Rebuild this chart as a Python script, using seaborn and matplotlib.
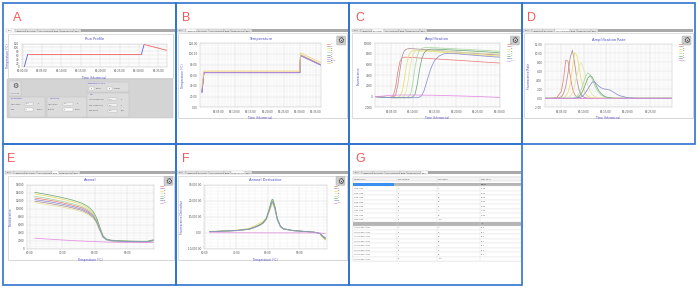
import matplotlib
matplotlib.use("Agg")
import matplotlib.pyplot as plt
import pandas as pd
import seaborn as sns
from matplotlib.patches import Rectangle, FancyBboxPatch
from matplotlib.ticker import FuncFormatter, AutoMinorLocator

# ---------------- data ----------------
panel_letters = ["A", "B", "C", "D", "E", "F", "G"]
tab_names = ["Profile", "Temperature", "Amplification", "Amplification Rate",
             "Anneal", "Anneal Derivative", "Result"]
wells = ["C1", "C2", "C3", "C4", "C5", "C6", "C7", "NTC"]

# A: run profile
profile_time = [0.4, 1.3, 1.3, 30.6, 30.6, 31.3, 31.3, 37.2]
profile_temp = [0, 65, 65, 65, 65, 115, 115, 85]
profile_step = ["r1", "r1", "h1", "h1", "r2", "r2", "h2", "h2"]
profile_kind = ["Ramp", "Ramp", "Hold", "Hold", "Ramp", "Ramp", "Hold", "Hold"]
profile_yticks = [0, 20, 40, 60, 80, 100, 120]

# B: temperature
temp_names = wells + ["Block", "Lid"]
temp_time = [0, 0.6, 30.0, 30.2, 36.4]
temp_values = [
    [30, 65.4, 65.4, 98.0, 80.0],
    [29, 65.2, 65.2, 97.6, 79.6],
    [33, 66.0, 66.0, 99.0, 81.0],
    [32, 65.6, 65.6, 98.4, 80.4],
    [30, 65.3, 65.3, 97.8, 79.8],
    [29, 65.1, 65.1, 97.4, 79.4],
    [28, 64.9, 64.9, 97.2, 79.2],
    [30, 65.2, 65.2, 97.6, 79.6],
    [27, 64.8, 64.8, 97.0, 79.0],
    [40, 68.0, 68.0, 102.0, 84.0],
]

# C: amplification (time in minutes)
amp_time = [1.2, 3, 4, 5, 5.5, 6, 6.5, 7, 7.5, 8, 8.5, 9, 9.5, 10, 10.5, 11, 11.5,
            12, 12.5, 13, 13.5, 14, 14.5, 15, 16, 17, 18, 20, 22, 25, 28, 30]
amp_values = [
    [0, -100, -150, -100, 300, 1800, 4600, 6600, 7300, 7400, 7400, 7380, 7350, 7330,
     7300, 7280, 7250, 7230, 7200, 7180, 7150, 7130, 7100, 7080,
     7030, 6980, 6930, 6830, 6730, 6560, 6400, 6300],
    [0, -100, -150, -150, -50, 300, 2200, 5000, 7600, 8600, 8900, 9000, 9000, 8980,
     8950, 8920, 8890, 8860, 8830, 8800, 8770, 8740, 8710, 8680,
     8620, 8560, 8500, 8380, 8260, 8080, 7900, 7800],
    [0, -100, -150, -200, -200, -200, -150, 100, 900, 3200, 5900, 7700, 8400, 8600,
     8620, 8600, 8580, 8560, 8540, 8520, 8500, 8470, 8450, 8420,
     8360, 8300, 8250, 8140, 8030, 7860, 7700, 7600],
    [0, -100, -150, -200, -200, -200, -200, -200, -150, 100, 1200, 3500, 6200, 7900,
     8500, 8700, 8720, 8700, 8680, 8660, 8640, 8620, 8600, 8580,
     8540, 8500, 8460, 8380, 8300, 8180, 8060, 8000],
    [0, -100, -150, -200, -200, -200, -200, -200, -200, -200, -200, 0, 600, 2800,
     5600, 7700, 8700, 9050, 9150, 9200, 9200, 9190, 9180, 9160,
     9120, 9080, 9040, 8950, 8870, 8740, 8600, 8500],
    [0, -100, -150, -200, -200, -200, -200, -200, -200, -200, -200, -200, -200, 0,
     500, 2400, 5000, 7000, 8100, 8600, 8800, 8880, 8900, 8900,
     8870, 8830, 8790, 8700, 8620, 8480, 8330, 8200],
    [0, -100, -150, -200, -200, -200, -200, -200, -200, -200, -200, -200, -200, -200,
     -200, -200, -100, 200, 1000, 2300, 3700, 5000, 6000, 6800,
     7600, 8000, 8100, 8050, 7900, 7700, 7500, 7400],
    [0, 100, 200, 250, 270, 280, 290, 300, 300, 300, 300, 300, 300, 300,
     300, 300, 290, 290, 280, 280, 270, 270, 260, 250,
     230, 210, 190, 150, 100, 20, -80, -150],
]

# D: amplification rate (same time grid)
rate_values = [
    [0, 0, 0.2, 1.5, 4.2, 8.4, 8.2, 5.0, 2.2, 0.8, 0.3, 0.1, 0, 0,
     0, 0, 0, 0, 0, 0, 0, 0, 0, 0, 0, 0, 0, 0, 0, 0, 0, 0],
    [0, 0, 0, 0.3, 1.0, 2.6, 5.5, 9.0, 10.6, 7.8, 4.2, 1.8, 0.7, 0.3,
     0.1, 0, 0, 0, 0, 0, 0, 0, 0, 0, 0, 0, 0, 0, 0, 0, 0, 0],
    [0, 0, 0, 0, 0.1, 0.4, 1.3, 3.2, 6.5, 10.1, 9.5, 7.0, 4.0, 2.0,
     0.9, 0.4, 0.2, 0.1, 0, 0, 0, 0, 0, 0, 0, 0, 0, 0, 0, 0, 0, 0],
    [0, 0, 0, 0, 0, 0, 0.1, 0.4, 1.2, 2.8, 5.0, 7.2, 7.8, 6.6,
     4.6, 2.8, 1.5, 0.8, 0.4, 0.2, 0.1, 0, 0, 0, 0, 0, 0, 0, 0, 0, 0, 0],
    [0, 0, 0, 0, 0, 0, 0, 0, 0, 0.1, 0.4, 1.0, 2.0, 3.4,
     4.9, 5.6, 5.2, 4.1, 2.9, 1.9, 1.2, 0.7, 0.4, 0.2, 0.1, 0, 0, 0, 0, 0, 0, 0],
    [0, 0, 0, 0, 0, 0, 0, 0, 0, 0, 0.1, 0.4, 1.0, 2.0,
     3.3, 4.5, 5.0, 4.6, 3.6, 2.5, 1.6, 1.0, 0.6, 0.3, 0.1, 0, 0, 0, 0, 0, 0, 0],
    [0, 0, 0, 0, 0, 0, 0, 0, 0, 0, 0, 0.1, 0.3, 0.7,
     1.3, 2.1, 2.9, 3.6, 3.6, 3.1, 2.6, 2.3, 2.1, 2.0, 1.8, 1.2, 0.6, 0.1, 0, 0, 0, 0],
    [0, 0, 0, 0, 0, 0, 0, 0, 0, 0, 0, 0, 0, 0,
     0, 0, 0, 0, 0, 0, 0, 0, 0, 0, 0, 0, 0, 0, 0, 0, 0, 0],
]

# E: anneal (temperature in degC)
anneal_temp = [61.5, 64, 67, 70, 73, 76, 78, 79.5, 80.5, 81.5, 82.5, 83.5, 85, 88, 92, 96, 98]
anneal_values = [
    [12700, 12400, 12000, 11500, 10950, 10250, 9400, 8350, 7000, 4950, 3050, 2380, 2080, 1920, 1830, 1780, 2150],
    [11900, 11600, 11200, 10750, 10250, 9600, 8800, 7800, 6600, 4700, 2950, 2300, 2000, 1850, 1780, 1730, 2050],
    [13700, 13350, 12900, 12400, 11800, 11000, 10100, 8900, 7500, 5300, 3200, 2450, 2150, 2000, 1900, 1850, 2250],
    [11500, 11200, 10800, 10400, 9900, 9250, 8500, 7550, 6400, 4550, 2900, 2250, 1950, 1820, 1750, 1700, 2000],
    [13100, 12800, 12350, 11850, 11300, 10550, 9700, 8600, 7200, 5100, 3100, 2400, 2100, 1950, 1850, 1800, 2200],
    [14100, 13750, 13300, 12800, 12200, 11400, 10500, 9300, 7800, 5500, 3300, 2500, 2200, 2050, 1950, 1900, 2300],
    [12300, 12000, 11600, 11150, 10600, 9900, 9100, 8100, 6800, 4800, 3000, 2350, 2050, 1900, 1800, 1750, 2100],
    [2700, 2550, 2400, 2250, 2100, 1980, 1900, 1850, 1820, 1790, 1760, 1730, 1700, 1660, 1620, 1600, 1600],
]

# F: anneal derivative
deriv_temp = [61.5, 65, 70, 74, 76, 77.5, 78.5, 79.5, 80.5, 81.2, 81.6, 82.2, 83, 84, 85,
              88, 92, 95, 96.5, 97.5, 98.3]
deriv_values = [
    [800, 1100, 1500, 2400, 3700, 5000, 6300, 8800, 14600, 19200, 19700, 16000, 8600, 4000, 2500, 1450, 870, 380, -300, -2300, -3500],
    [750, 1000, 1400, 2250, 3500, 4800, 6000, 8400, 13900, 18200, 18700, 15300, 8200, 3850, 2400, 1400, 840, 360, -350, -2600, -4000],
    [900, 1200, 1700, 2800, 4600, 6300, 7200, 9300, 13500, 17000, 17600, 15000, 8300, 4000, 2500, 1450, 850, 350, -400, -3000, -4500],
    [700, 1000, 1400, 2200, 3400, 4700, 5900, 8200, 13500, 17800, 18300, 15000, 8100, 3800, 2400, 1380, 830, 350, -400, -2800, -4300],
    [800, 1100, 1500, 2400, 3800, 5200, 6500, 9000, 15000, 19800, 20300, 16500, 8800, 4100, 2600, 1500, 900, 400, -300, -2200, -3300],
    [800, 1100, 1500, 2400, 3800, 5200, 6500, 9200, 15500, 20500, 21000, 17000, 9000, 4200, 2600, 1500, 900, 400, -300, -2500, -3800],
    [750, 1050, 1450, 2300, 3600, 4900, 6200, 8600, 14200, 18600, 19100, 15600, 8400, 3900, 2450, 1420, 850, 370, -300, -2000, -3000],
    [100, 100, 80, 60, 50, 50, 50, 40, 40, 40, 40, 30, 30, 30, 20, 20, 10, 0, -100, -300, -500],
]

# G: result table
table_cols = ["Target Name", "Well Number", "Well Name", "Peak Value"]
section_names = ["Amp Time", "Anneal Derivative"]
section_units = ["mm:ss", "\u00b0C"]
well_numbers = ["1", "2", "3", "4", "5", "6", "7", "8"]
amp_times = ["06:18", "07:02", "08:16", "09:20", "10:20", "11:25", "13:30", ""]
anneal_peaks = ["82.1", "82.1", "82.2", "82.1", "82.1", "82.2", "82.1", ""]

# ---------------- styles ----------------
well_colors = ["#e8807a", "#b58c96", "#eedc6a", "#dfe6a2", "#a9d6a0", "#6fa97c", "#8a8fd0", "#e48ee4"]
temp_colors = well_colors + ["#9b86d6", "#f2cf78"]
profile_colors = {"Ramp": "#5b5be0", "Hold": "#f06464"}
BLUE_TXT = "#4b4bc8"
BORDER = "#2f72cf"

sns.set_style("white")
plt.rcParams["font.family"] = ["DejaVu Sans"]

W, H = 700, 290
fig = plt.figure(figsize=(7, 2.9), dpi=100, facecolor="white")
bg = fig.add_axes([0, 0, 1, 1])
bg.set_xlim(0, W)
bg.set_ylim(H, 0)
bg.axis("off")


def ax_at(x0, y0, x1, y1):
    return fig.add_axes([x0 / W, 1 - y1 / H, (x1 - x0) / W, (y1 - y0) / H])


def rect(x0, y0, x1, y1, fc, ec="none", lw=0.3, z=1):
    bg.add_patch(Rectangle((x0, y0), x1 - x0, y1 - y0, facecolor=fc,
                           edgecolor=ec, linewidth=lw, zorder=z))


def txt(x, y, s, size=1.5, color="#555555", ha="left", va="center", z=5, **kw):
    bg.text(x, y, s, fontsize=size, color=color, ha=ha, va=va, zorder=z, **kw)


def tabs(x0, x1, y0, active):
    rect(x0, y0, x1, y0 + 3.4, "#a9a9a9", z=2)
    widths = [9, 11, 12, 15, 7, 14, 7]
    x = x0
    for i, (name, w) in enumerate(zip(tab_names, widths)):
        rect(x, y0 + 0.2, x + w, y0 + 3.4, "white" if i == active else "#e2e2e2",
             ec="#9a9a9a", lw=0.2, z=3)
        txt(x + w / 2, y0 + 1.9, name, size=1.05, color="#444444", ha="center")
        x += w


def gear(x0, y0):
    bg.add_patch(FancyBboxPatch((x0, y0), 9, 9, boxstyle="round,pad=0,rounding_size=1",
                                facecolor="#cdcdcd", edgecolor="#a8a8a8", linewidth=0.3, zorder=4))
    txt(x0 + 4.5, y0 + 4.7, "\u2699", size=5.5, color="#4a4a4a", ha="center")


def legend(x0, y0, names, colors, dy):
    for i, (n, c) in enumerate(zip(names, colors)):
        y = y0 + i * dy
        bg.plot([x0, x0 + 3], [y, y], color=c, lw=0.5, zorder=5)
        txt(x0 + 3.8, y, n, size=1.3, color="#666666")


def chart_box(x0, y0, x1, y1):
    rect(x0 + 0.6, y0 + 0.6, x1 + 0.6, y1 + 0.6, "#e4e4e4", z=1)
    rect(x0, y0, x1, y1, "white", ec="#c4c4c4", lw=0.4, z=1.5)


def style(ax, xlim, ylim, xticks, yticks, xfmt, yfmt, title, xlabel, ylabel, minor=5):
    ax.set_facecolor("white")
    ax.set_xlim(*xlim)
    ax.set_ylim(*ylim)
    ax.set_xticks(xticks)
    ax.set_yticks(yticks)
    ax.xaxis.set_major_formatter(FuncFormatter(xfmt))
    ax.yaxis.set_major_formatter(FuncFormatter(yfmt))
    ax.xaxis.set_minor_locator(AutoMinorLocator(minor))
    ax.yaxis.set_minor_locator(AutoMinorLocator(minor))
    ax.grid(which="major", color="#d6d6d6", lw=0.35)
    ax.grid(which="minor", color="#ececec", lw=0.25)
    ax.set_axisbelow(True)
    ax.tick_params(which="major", labelsize=2.0, length=0.8, width=0.3,
                   colors="#555555", pad=1)
    ax.tick_params(which="minor", length=0)
    for s in ax.spines.values():
        s.set_color("#bdbdbd")
        s.set_linewidth(0.3)
    ax.set_title(title, fontsize=2.6, color=BLUE_TXT, pad=2.5)
    ax.set_xlabel(xlabel, fontsize=2.1, color=BLUE_TXT, labelpad=1.5)
    ax.set_ylabel(ylabel, fontsize=2.1, color=BLUE_TXT, labelpad=2.5)


def plot_lines(ax, x, values, names, colors, lw=0.5):
    frames = [pd.DataFrame({"x": x, "y": v, "series": n}) for n, v in zip(names, values)]
    df = pd.concat(frames, ignore_index=True)
    sns.lineplot(data=df, x="x", y="y", hue="series", hue_order=names,
                 palette=dict(zip(names, colors)), estimator=None, sort=False,
                 legend=False, linewidth=lw, ax=ax)


tfmt = lambda v, p: f"00:{int(round(v)):02d}:00"
f2 = lambda v, p: f"{v:.2f}"
fi = lambda v, p: f"{int(round(v))}"
fc = lambda v, p: f"{v:,.2f}"

# ---------------- panel frames ----------------
panels = [(3, 3, 176, 144), (176, 3, 349, 144), (349, 3, 522, 144), (522, 3, 695, 144),
          (3, 144, 176, 285), (176, 144, 349, 285), (349, 144, 522, 285)]
letter_pos = [(12.7, 20.7), (182.3, 20.7), (355.3, 20.7), (527, 20.7),
              (7.3, 162.3), (182.3, 161.5), (355.3, 161.5)]
for (x0, y0, x1, y1), L, (lx, ly) in zip(panels, panel_letters, letter_pos):
    bg.add_patch(Rectangle((x0, y0), x1 - x0, y1 - y0, facecolor="none",
                           edgecolor=BORDER, linewidth=1.2, zorder=10))
    bg.text(lx, ly, L, fontsize=9, color="#f05a5a", ha="left", va="baseline",
            family=["Liberation Sans", "DejaVu Sans"], zorder=6)

# tab strips
tabs(6, 175, 29, 0)
tabs(177, 348.3, 29, 1)
tabs(352, 521, 29, 2)
tabs(523, 693, 29, 3)
tabs(5, 175, 171, 4)
tabs(177, 348, 171, 5)
tabs(353, 521, 171, 6)

# ---------------- A: run profile ----------------
chart_box(8, 34, 173, 78)
axA = ax_at(21.5, 43.5, 167, 67)
dfA = pd.DataFrame({"x": profile_time, "y": profile_temp,
                    "kind": profile_kind, "step": profile_step})
sns.lineplot(data=dfA, x="x", y="y", hue="kind", units="step", estimator=None,
             sort=False, palette=profile_colors, legend=False, linewidth=0.6, ax=axA)
style(axA, (-0.3, 37.2), (0, 120), [0, 5, 10, 15, 20, 25, 30, 35], profile_yticks,
      tfmt, fi, "Run Profile", "Time (hh:mm:ss)", "Temperature (\u00b0C)", minor=2)

# controls below
rect(7, 79, 173, 118.3, "#d4d4d4", ec="#c0c0c0", z=1)
rect(9, 81, 20.5, 96, "#dedede", ec="#bcbcbc", z=2)
txt(15, 85.6, "\u2699", size=5, color="#444444", ha="center")
txt(15, 93.5, "Advanced", size=1.3, ha="center")
# Denaturation
rect(9, 97, 45, 116.5, "#dcdcdc", ec="#bdbdbd", z=2)
txt(11, 98.6, "Denaturation", size=1.4, color=BLUE_TXT)
txt(10.5, 104, "Temperature", size=1.2)
rect(25, 102.8, 33.3, 105.2, "white", ec="#9a9a9a", lw=0.2, z=3)
txt(25.6, 104, "95.0", size=1.1)
txt(37, 104, "\u00b0C", size=1.2)
txt(10.5, 109.3, "Time", size=1.2)
rect(25, 108.1, 33.3, 110.5, "white", ec="#9a9a9a", lw=0.2, z=3)
txt(25.6, 109.3, "0", size=1.1)
txt(36.5, 109.3, "Minutes", size=1.2)
# Isothermal
rect(46.7, 97, 86.7, 116.5, "#dcdcdc", ec="#bdbdbd", z=2)
txt(50, 98.6, "Isothermal", size=1.4, color=BLUE_TXT)
txt(48.3, 104, "Temperature", size=1.2)
rect(63.3, 102.8, 72.7, 105.2, "white", ec="#9a9a9a", lw=0.2, z=3)
txt(64, 104, "65.0", size=1.1)
txt(76, 104, "\u00b0C", size=1.2)
txt(48.3, 109.3, "Duration", size=1.2)
rect(63.3, 108.1, 72.7, 110.5, "white", ec="#9a9a9a", lw=0.2, z=3)
txt(64, 109.3, "30", size=1.1)
txt(75, 109.3, "Minutes", size=1.2)
# Estimated run time
rect(87.3, 81.7, 129.3, 91.7, "#dcdcdc", ec="#bdbdbd", z=2)
txt(88.3, 83.1, "Estimated run time", size=1.3, color=BLUE_TXT)
rect(89.3, 87.1, 94.3, 89.5, "white", ec="#9a9a9a", lw=0.2, z=3)
txt(91.8, 88.3, "37", size=1.1, ha="center")
txt(96, 88.3, "Minutes", size=1.2)
rect(107.3, 87.1, 112.3, 89.5, "white", ec="#9a9a9a", lw=0.2, z=3)
txt(109.8, 88.3, "12", size=1.1, ha="center")
txt(114, 88.3, "Seconds", size=1.2)
# Melt
rect(87.3, 92.7, 129.3, 117.3, "#dcdcdc", ec="#bdbdbd", z=2)
txt(89.3, 94.2, "Melt", size=1.4, color=BLUE_TXT)
for yy, lab, val, unit in [(99, "Start Temperature", "95.0", "\u00b0C"),
                           (105, "End Temperature", "80.0", "\u00b0C"),
                           (110.7, "Ramp Rate", "0.10", "\u00b0C/sec")]:
    txt(89.3, yy, lab, size=1.2)
    rect(108.3, yy - 1.2, 116.7, yy + 1.2, "white", ec="#9a9a9a", lw=0.2, z=3)
    txt(109, yy, val, size=1.1)
    txt(120, yy, unit, size=1.2)

# ---------------- B: temperature ----------------
chart_box(178, 33, 347, 118)
axB = ax_at(200, 43.3, 320.7, 107.3)
plot_lines(axB, temp_time, temp_values, temp_names, temp_colors, lw=0.55)
style(axB, (-0.6, 36.4), (0, 120), [5, 10, 15, 20, 25, 30, 35],
      [0, 20, 40, 60, 80, 100, 120], tfmt, f2, "Temperature",
      "Time (hh:mm:ss)", "Temperature (\u00b0C)")
gear(336.7, 36)
legend(326.7, 44, temp_names, temp_colors, 2.1)

# ---------------- C: amplification ----------------
chart_box(352, 33, 521, 118)
axC = ax_at(374.7, 43.3, 499.7, 107.3)
plot_lines(axC, amp_time, amp_values, wells, well_colors, lw=0.55)
style(axC, (1.17, 30), (-2000, 10000), [5, 10, 15, 20, 25, 30],
      [-2000, 0, 2000, 4000, 6000, 8000, 10000], tfmt, fi, "Amplification",
      "Time (hh:mm:ss)", "Fluorescence")
gear(510.3, 36)
legend(507, 44, wells, well_colors, 2.4)

# ---------------- D: amplification rate ----------------
chart_box(524, 33, 693, 118)
axD = ax_at(544.7, 44, 672, 107.3)
plot_lines(axD, amp_time, rate_values, wells, well_colors, lw=0.55)
style(axD, (1.27, 29.9), (-2, 12), [5, 10, 15, 20, 25],
      [-2, 0, 2, 4, 6, 8, 10, 12], tfmt, f2, "Amplification Rate",
      "Time (hh:mm:ss)", "Fluorescence Rate")
gear(682, 36)
legend(679, 44, wells, well_colors, 2.3)

# ---------------- E: anneal ----------------
chart_box(8, 176, 174, 260)
axE = ax_at(26.7, 184.7, 154, 249)
plot_lines(axE, anneal_temp, anneal_values, wells, well_colors, lw=0.55)
style(axE, (59, 98.2), (0, 16000), [60, 70, 80, 90],
      [0, 2000, 4000, 6000, 8000, 10000, 12000, 14000, 16000], f2, fi, "Anneal",
      "Temperature (\u00b0C)", "Fluorescence")
gear(164, 176.3)
legend(160, 186, wells, well_colors, 2.4)

# ---------------- F: anneal derivative ----------------
chart_box(178, 176, 347, 260)
axF = ax_at(204.3, 184.7, 326.7, 249)
plot_lines(axF, deriv_temp, deriv_values, wells, well_colors, lw=0.55)
style(axF, (59.8, 98.7), (-10000, 30000), [60, 70, 80, 90],
      [-10000, 0, 10000, 20000, 30000], f2, fc, "Anneal Derivative",
      "Temperature (\u00b0C)", "Fluorescence Derivative")
gear(336, 176.3)
legend(334, 186, wells, well_colors, 2.4)

# ---------------- G: result table ----------------
cols_x = [353, 396.7, 437.3, 480, 521.3]
pitch = 4.45
rect(353, 177.3, 521.3, 261.3, "white", ec="#c8c8c8", lw=0.3, z=1)
# header
rect(353, 177.3, 521.3, 180.9, "#f4f4f4", ec="#c8c8c8", lw=0.25, z=2)
for cx, name in zip(cols_x[:-1], table_cols):
    txt(cx + 1, 179.1, name, size=1.3, color="#444444")
y = 182.8
for s, (sec, unit, values) in enumerate(zip(section_names, section_units,
                                             [amp_times, anneal_peaks])):
    rect(353, y, 521.3, y + 3.6, "#b5b5b5", z=2)
    if s == 0:
        rect(353, y, 394, y + 3.6, "#3b8ff0", z=3)
    txt(cols_x[3] + 1, y + 1.8, unit, size=1.3, color="#333333")
    y += 3.6
    for i in range(8):
        rect(353, y, 521.3, y + pitch, "white", ec="#dcdcdc", lw=0.25, z=2)
        txt(cols_x[0] + 1, y + pitch / 2, sec, size=1.3)
        txt(cols_x[1] + 1, y + pitch / 2, well_numbers[i], size=1.3)
        txt(cols_x[2] + 1, y + pitch / 2, wells[i], size=1.3)
        txt(cols_x[3] + 1, y + pitch / 2, values[i], size=1.3)
        y += pitch
    y += 0.0
for cx in cols_x[1:-1]:
    bg.plot([cx, cx], [177.3, 261.3], color="#d4d4d4", lw=0.25, zorder=4)

fig.savefig("out.png", dpi=100, facecolor="white")
